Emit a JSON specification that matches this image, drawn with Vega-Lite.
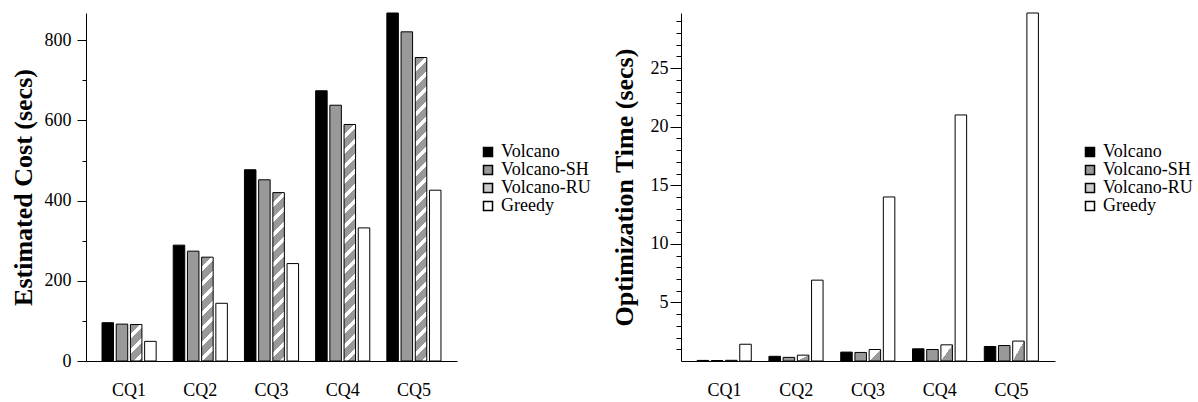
{
  "$schema": "https://vega.github.io/schema/vega-lite/v6.json",
  "background": "white",
  "padding": {"left": 10, "top": 10, "right": 0, "bottom": 0},
  "autosize": {"type": "pad"},
  "spacing": 20,
  "datasets": {
    "cost": [
      {"q": "CQ1", "s": "Volcano", "v": 95.5}, {"q": "CQ1", "s": "Volcano-SH", "v": 92}, {"q": "CQ1", "s": "Volcano-RU", "v": 91}, {"q": "CQ1", "s": "Greedy", "v": 49},
      {"q": "CQ2", "s": "Volcano", "v": 289}, {"q": "CQ2", "s": "Volcano-SH", "v": 274}, {"q": "CQ2", "s": "Volcano-RU", "v": 259}, {"q": "CQ2", "s": "Greedy", "v": 144},
      {"q": "CQ3", "s": "Volcano", "v": 477}, {"q": "CQ3", "s": "Volcano-SH", "v": 452}, {"q": "CQ3", "s": "Volcano-RU", "v": 420}, {"q": "CQ3", "s": "Greedy", "v": 243},
      {"q": "CQ4", "s": "Volcano", "v": 674}, {"q": "CQ4", "s": "Volcano-SH", "v": 638}, {"q": "CQ4", "s": "Volcano-RU", "v": 590}, {"q": "CQ4", "s": "Greedy", "v": 332},
      {"q": "CQ5", "s": "Volcano", "v": 868}, {"q": "CQ5", "s": "Volcano-SH", "v": 821}, {"q": "CQ5", "s": "Volcano-RU", "v": 757}, {"q": "CQ5", "s": "Greedy", "v": 426}
    ],
    "time": [
      {"q": "CQ1", "s": "Volcano", "v": 0.05}, {"q": "CQ1", "s": "Volcano-SH", "v": 0.04}, {"q": "CQ1", "s": "Volcano-RU", "v": 0.06}, {"q": "CQ1", "s": "Greedy", "v": 1.43},
      {"q": "CQ2", "s": "Volcano", "v": 0.40}, {"q": "CQ2", "s": "Volcano-SH", "v": 0.31}, {"q": "CQ2", "s": "Volcano-RU", "v": 0.50}, {"q": "CQ2", "s": "Greedy", "v": 6.9},
      {"q": "CQ3", "s": "Volcano", "v": 0.76}, {"q": "CQ3", "s": "Volcano-SH", "v": 0.73}, {"q": "CQ3", "s": "Volcano-RU", "v": 0.98}, {"q": "CQ3", "s": "Greedy", "v": 14.0},
      {"q": "CQ4", "s": "Volcano", "v": 1.04}, {"q": "CQ4", "s": "Volcano-SH", "v": 0.98}, {"q": "CQ4", "s": "Volcano-RU", "v": 1.38}, {"q": "CQ4", "s": "Greedy", "v": 21.0},
      {"q": "CQ5", "s": "Volcano", "v": 1.24}, {"q": "CQ5", "s": "Volcano-SH", "v": 1.32}, {"q": "CQ5", "s": "Volcano-RU", "v": 1.70}, {"q": "CQ5", "s": "Greedy", "v": 29.7}
    ]
  },
  "config": {
    "view": {"stroke": null},
    "font": "Liberation Serif",
    "axis": {"labelFont": "Liberation Serif", "titleFont": "Liberation Serif", "labelColor": "#000", "titleColor": "#000", "domainColor": "#000", "tickColor": "#000", "grid": false, "titleFontWeight": "bold", "domainWidth": 1, "tickWidth": 1},
    "legend": {"labelFont": "Liberation Serif", "labelColor": "#000", "labelFontSize": 18, "symbolType": "square", "symbolSize": 81, "rowPadding": -6, "labelOffset": 4, "padding": 0}
  },
  "resolve": {"scale": {"fill": "independent"}, "legend": {"fill": "independent"}},
  "hconcat": [
    {
      "width": 371, "height": 348,
      "data": {"name": "cost"},
      "layer": [
        {
          "mark": {"type": "bar", "stroke": "#000", "strokeWidth": 1},
          "encoding": {
            "x": {"field": "q", "type": "nominal", "scale": {"paddingInner": 0.24, "paddingOuter": 0.225}, "axis": {"title": null, "labelAngle": 0, "ticks": false, "labelPadding": 20, "labelFontSize": 18}},
            "xOffset": {"field": "s", "type": "nominal", "sort": ["Volcano", "Volcano-SH", "Volcano-RU", "Greedy"], "scale": {"paddingInner": 0.19, "paddingOuter": 0}},
            "y": {"field": "v", "type": "quantitative", "scale": {"domain": [0, 868], "nice": false}, "axis": {"title": "Estimated Cost (secs)", "values": [0, 200, 400, 600, 800], "tickSize": 9, "labelPadding": 6, "titlePadding": 8, "labelFontSize": 18, "titleFontSize": 26}},
            "fill": {
              "field": "s", "type": "nominal",
              "scale": {"domain": ["Volcano", "Volcano-SH", "Volcano-RU", "Greedy"], "range": ["#000000", "#999999", "#cccccc", "#ffffff"]},
              "legend": {"title": null, "orient": "none", "legendX": 393, "legendY": 130, "labelFont": "Liberation Serif", "labelFontSize": 18, "labelColor": "#000",
                "encode": {"symbols": {
                  "stroke": {"value": "#000"}, "strokeWidth": {"value": 1},
                  "fill": {"condition": [
                    {"test": "datum.value === 'Volcano-RU'", "value": {"gradient": "linear", "x1": 0, "y1": 0, "x2": 1, "y2": 1, "stops": [{"offset": 0, "color": "#fff"}, {"offset": 0.5, "color": "#fff"}, {"offset": 0.5, "color": "#999"}, {"offset": 1, "color": "#999"}]}},
                    {"test": "datum.value === 'Volcano'", "value": "#000"},
                    {"test": "datum.value === 'Volcano-SH'", "value": "#999"}
                  ], "value": "#fff"}}}},
              "condition": [
                {"test": "datum.q === 'CQ1' && datum.s === 'Volcano-RU'", "value": {"gradient": "linear", "x1": 0, "y1": 0, "x2": 0.377, "y2": 1.196, "stops": [
                  {"offset": 0, "color": "#999"}, {"offset": 0.2031, "color": "#999"}, {"offset": 0.2031, "color": "#fff"}, {"offset": 0.3125, "color": "#fff"},
                  {"offset": 0.3125, "color": "#999"}, {"offset": 0.5156, "color": "#999"}, {"offset": 0.5156, "color": "#fff"}, {"offset": 0.625, "color": "#fff"},
                  {"offset": 0.625, "color": "#999"}, {"offset": 0.8281, "color": "#999"}, {"offset": 0.8281, "color": "#fff"}, {"offset": 0.9375, "color": "#fff"},
                  {"offset": 0.9375, "color": "#999"}, {"offset": 1, "color": "#999"}]}},
                {"test": "datum.q === 'CQ2' && datum.s === 'Volcano-RU'", "value": {"gradient": "linear", "x1": 0, "y1": 0, "x2": 0.1213, "y2": 1.0972, "stops": [
                  {"offset": 0, "color": "#999"}, {"offset": 0.0844, "color": "#999"}, {"offset": 0.0844, "color": "#fff"}, {"offset": 0.1299, "color": "#fff"},
                  {"offset": 0.1299, "color": "#999"}, {"offset": 0.2143, "color": "#999"}, {"offset": 0.2143, "color": "#fff"}, {"offset": 0.2597, "color": "#fff"},
                  {"offset": 0.2597, "color": "#999"}, {"offset": 0.3442, "color": "#999"}, {"offset": 0.3442, "color": "#fff"}, {"offset": 0.3896, "color": "#fff"},
                  {"offset": 0.3896, "color": "#999"}, {"offset": 0.4740, "color": "#999"}, {"offset": 0.4740, "color": "#fff"}, {"offset": 0.5195, "color": "#fff"},
                  {"offset": 0.5195, "color": "#999"}, {"offset": 0.6039, "color": "#999"}, {"offset": 0.6039, "color": "#fff"}, {"offset": 0.6494, "color": "#fff"},
                  {"offset": 0.6494, "color": "#999"}, {"offset": 0.7338, "color": "#999"}, {"offset": 0.7338, "color": "#fff"}, {"offset": 0.7792, "color": "#fff"},
                  {"offset": 0.7792, "color": "#999"}, {"offset": 0.8636, "color": "#999"}, {"offset": 0.8636, "color": "#fff"}, {"offset": 0.9091, "color": "#fff"},
                  {"offset": 0.9091, "color": "#999"}, {"offset": 0.9935, "color": "#999"}, {"offset": 0.9935, "color": "#fff"}, {"offset": 1, "color": "#fff"}]}},
                {"test": "datum.q === 'CQ3' && datum.s === 'Volcano-RU'", "value": {"gradient": "linear", "x1": 0, "y1": 0, "x2": 0.0726, "y2": 1.0633, "stops": [
                  {"offset": 0, "color": "#999"}, {"offset": 0.0542, "color": "#999"}, {"offset": 0.0542, "color": "#fff"}, {"offset": 0.0833, "color": "#fff"},
                  {"offset": 0.0833, "color": "#999"}, {"offset": 0.1375, "color": "#999"}, {"offset": 0.1375, "color": "#fff"}, {"offset": 0.1667, "color": "#fff"},
                  {"offset": 0.1667, "color": "#999"}, {"offset": 0.2208, "color": "#999"}, {"offset": 0.2208, "color": "#fff"}, {"offset": 0.25, "color": "#fff"},
                  {"offset": 0.25, "color": "#999"}, {"offset": 0.3042, "color": "#999"}, {"offset": 0.3042, "color": "#fff"}, {"offset": 0.3333, "color": "#fff"},
                  {"offset": 0.3333, "color": "#999"}, {"offset": 0.3875, "color": "#999"}, {"offset": 0.3875, "color": "#fff"}, {"offset": 0.4167, "color": "#fff"},
                  {"offset": 0.4167, "color": "#999"}, {"offset": 0.4708, "color": "#999"}, {"offset": 0.4708, "color": "#fff"}, {"offset": 0.5, "color": "#fff"},
                  {"offset": 0.5, "color": "#999"}, {"offset": 0.5542, "color": "#999"}, {"offset": 0.5542, "color": "#fff"}, {"offset": 0.5833, "color": "#fff"},
                  {"offset": 0.5833, "color": "#999"}, {"offset": 0.6375, "color": "#999"}, {"offset": 0.6375, "color": "#fff"}, {"offset": 0.6667, "color": "#fff"},
                  {"offset": 0.6667, "color": "#999"}, {"offset": 0.7208, "color": "#999"}, {"offset": 0.7208, "color": "#fff"}, {"offset": 0.75, "color": "#fff"},
                  {"offset": 0.75, "color": "#999"}, {"offset": 0.8042, "color": "#999"}, {"offset": 0.8042, "color": "#fff"}, {"offset": 0.8333, "color": "#fff"},
                  {"offset": 0.8333, "color": "#999"}, {"offset": 0.8875, "color": "#999"}, {"offset": 0.8875, "color": "#fff"}, {"offset": 0.9167, "color": "#fff"},
                  {"offset": 0.9167, "color": "#999"}, {"offset": 0.9708, "color": "#999"}, {"offset": 0.9708, "color": "#fff"}, {"offset": 1, "color": "#fff"}]}},
                {"test": "datum.q === 'CQ4' && datum.s === 'Volcano-RU'", "value": {"gradient": "linear", "x1": 0, "y1": 0, "x2": 0.0508, "y2": 1.0461, "stops": [
                  {"offset": 0, "color": "#999"}, {"offset": 0.0393, "color": "#999"}, {"offset": 0.0393, "color": "#fff"}, {"offset": 0.0604, "color": "#fff"},
                  {"offset": 0.0604, "color": "#999"}, {"offset": 0.0997, "color": "#999"}, {"offset": 0.0997, "color": "#fff"}, {"offset": 0.1209, "color": "#fff"},
                  {"offset": 0.1209, "color": "#999"}, {"offset": 0.1602, "color": "#999"}, {"offset": 0.1602, "color": "#fff"}, {"offset": 0.1813, "color": "#fff"},
                  {"offset": 0.1813, "color": "#999"}, {"offset": 0.2206, "color": "#999"}, {"offset": 0.2206, "color": "#fff"}, {"offset": 0.2417, "color": "#fff"},
                  {"offset": 0.2417, "color": "#999"}, {"offset": 0.2810, "color": "#999"}, {"offset": 0.2810, "color": "#fff"}, {"offset": 0.3022, "color": "#fff"},
                  {"offset": 0.3022, "color": "#999"}, {"offset": 0.3415, "color": "#999"}, {"offset": 0.3415, "color": "#fff"}, {"offset": 0.3626, "color": "#fff"},
                  {"offset": 0.3626, "color": "#999"}, {"offset": 0.4019, "color": "#999"}, {"offset": 0.4019, "color": "#fff"}, {"offset": 0.4230, "color": "#fff"},
                  {"offset": 0.4230, "color": "#999"}, {"offset": 0.4623, "color": "#999"}, {"offset": 0.4623, "color": "#fff"}, {"offset": 0.4834, "color": "#fff"},
                  {"offset": 0.4834, "color": "#999"}, {"offset": 0.5227, "color": "#999"}, {"offset": 0.5227, "color": "#fff"}, {"offset": 0.5439, "color": "#fff"},
                  {"offset": 0.5439, "color": "#999"}, {"offset": 0.5832, "color": "#999"}, {"offset": 0.5832, "color": "#fff"}, {"offset": 0.6043, "color": "#fff"},
                  {"offset": 0.6043, "color": "#999"}, {"offset": 0.6436, "color": "#999"}, {"offset": 0.6436, "color": "#fff"}, {"offset": 0.6647, "color": "#fff"},
                  {"offset": 0.6647, "color": "#999"}, {"offset": 0.7040, "color": "#999"}, {"offset": 0.7040, "color": "#fff"}, {"offset": 0.7252, "color": "#fff"},
                  {"offset": 0.7252, "color": "#999"}, {"offset": 0.7645, "color": "#999"}, {"offset": 0.7645, "color": "#fff"}, {"offset": 0.7856, "color": "#fff"},
                  {"offset": 0.7856, "color": "#999"}, {"offset": 0.8249, "color": "#999"}, {"offset": 0.8249, "color": "#fff"}, {"offset": 0.8460, "color": "#fff"},
                  {"offset": 0.8460, "color": "#999"}, {"offset": 0.8853, "color": "#999"}, {"offset": 0.8853, "color": "#fff"}, {"offset": 0.9065, "color": "#fff"},
                  {"offset": 0.9065, "color": "#999"}, {"offset": 0.9458, "color": "#999"}, {"offset": 0.9458, "color": "#fff"}, {"offset": 0.9669, "color": "#fff"},
                  {"offset": 0.9669, "color": "#999"}, {"offset": 1, "color": "#999"}]}},
                {"test": "datum.q === 'CQ5' && datum.s === 'Volcano-RU'", "value": {"gradient": "linear", "x1": 0, "y1": 0, "x2": 0.0392, "y2": 1.0364, "stops": [
                  {"offset": 0, "color": "#999"}, {"offset": 0.0309, "color": "#999"}, {"offset": 0.0309, "color": "#fff"}, {"offset": 0.0476, "color": "#fff"},
                  {"offset": 0.0476, "color": "#999"}, {"offset": 0.0785, "color": "#999"}, {"offset": 0.0785, "color": "#fff"}, {"offset": 0.0952, "color": "#fff"},
                  {"offset": 0.0952, "color": "#999"}, {"offset": 0.1261, "color": "#999"}, {"offset": 0.1261, "color": "#fff"}, {"offset": 0.1428, "color": "#fff"},
                  {"offset": 0.1428, "color": "#999"}, {"offset": 0.1737, "color": "#999"}, {"offset": 0.1737, "color": "#fff"}, {"offset": 0.1904, "color": "#fff"},
                  {"offset": 0.1904, "color": "#999"}, {"offset": 0.2213, "color": "#999"}, {"offset": 0.2213, "color": "#fff"}, {"offset": 0.2379, "color": "#fff"},
                  {"offset": 0.2379, "color": "#999"}, {"offset": 0.2689, "color": "#999"}, {"offset": 0.2689, "color": "#fff"}, {"offset": 0.2855, "color": "#fff"},
                  {"offset": 0.2855, "color": "#999"}, {"offset": 0.3165, "color": "#999"}, {"offset": 0.3165, "color": "#fff"}, {"offset": 0.3331, "color": "#fff"},
                  {"offset": 0.3331, "color": "#999"}, {"offset": 0.3640, "color": "#999"}, {"offset": 0.3640, "color": "#fff"}, {"offset": 0.3807, "color": "#fff"},
                  {"offset": 0.3807, "color": "#999"}, {"offset": 0.4116, "color": "#999"}, {"offset": 0.4116, "color": "#fff"}, {"offset": 0.4283, "color": "#fff"},
                  {"offset": 0.4283, "color": "#999"}, {"offset": 0.4592, "color": "#999"}, {"offset": 0.4592, "color": "#fff"}, {"offset": 0.4759, "color": "#fff"},
                  {"offset": 0.4759, "color": "#999"}, {"offset": 0.5068, "color": "#999"}, {"offset": 0.5068, "color": "#fff"}, {"offset": 0.5235, "color": "#fff"},
                  {"offset": 0.5235, "color": "#999"}, {"offset": 0.5544, "color": "#999"}, {"offset": 0.5544, "color": "#fff"}, {"offset": 0.5711, "color": "#fff"},
                  {"offset": 0.5711, "color": "#999"}, {"offset": 0.6020, "color": "#999"}, {"offset": 0.6020, "color": "#fff"}, {"offset": 0.6187, "color": "#fff"},
                  {"offset": 0.6187, "color": "#999"}, {"offset": 0.6496, "color": "#999"}, {"offset": 0.6496, "color": "#fff"}, {"offset": 0.6663, "color": "#fff"},
                  {"offset": 0.6663, "color": "#999"}, {"offset": 0.6972, "color": "#999"}, {"offset": 0.6972, "color": "#fff"}, {"offset": 0.7138, "color": "#fff"},
                  {"offset": 0.7138, "color": "#999"}, {"offset": 0.7448, "color": "#999"}, {"offset": 0.7448, "color": "#fff"}, {"offset": 0.7614, "color": "#fff"},
                  {"offset": 0.7614, "color": "#999"}, {"offset": 0.7924, "color": "#999"}, {"offset": 0.7924, "color": "#fff"}, {"offset": 0.8090, "color": "#fff"},
                  {"offset": 0.8090, "color": "#999"}, {"offset": 0.8400, "color": "#999"}, {"offset": 0.8400, "color": "#fff"}, {"offset": 0.8566, "color": "#fff"},
                  {"offset": 0.8566, "color": "#999"}, {"offset": 0.8875, "color": "#999"}, {"offset": 0.8875, "color": "#fff"}, {"offset": 0.9042, "color": "#fff"},
                  {"offset": 0.9042, "color": "#999"}, {"offset": 0.9351, "color": "#999"}, {"offset": 0.9351, "color": "#fff"}, {"offset": 0.9518, "color": "#fff"},
                  {"offset": 0.9518, "color": "#999"}, {"offset": 0.9827, "color": "#999"}, {"offset": 0.9827, "color": "#fff"}, {"offset": 1, "color": "#fff"}]}}
              ]
            }
          }
        },
        {
          "mark": {"type": "point", "opacity": 0},
          "encoding": {
            "y": {"field": "v", "type": "quantitative", "scale": {"domain": [0, 868], "nice": false}, "axis": {"orient": "left", "values": [100, 300, 500, 700], "labels": false, "domain": false, "title": null, "tickSize": 4}}
          }
        }
      ],
      "resolve": {"axis": {"y": "independent"}}
    },
    {
      "width": 374, "height": 348,
      "data": {"name": "time"},
      "layer": [
        {
          "mark": {"type": "bar", "stroke": "#000", "strokeWidth": 1},
          "encoding": {
            "x": {"field": "q", "type": "nominal", "scale": {"paddingInner": 0.24, "paddingOuter": 0.225}, "axis": {"title": null, "labelAngle": 0, "ticks": false, "labelPadding": 20, "labelFontSize": 18}},
            "xOffset": {"field": "s", "type": "nominal", "sort": ["Volcano", "Volcano-SH", "Volcano-RU", "Greedy"], "scale": {"paddingInner": 0.19, "paddingOuter": 0}},
            "y": {"field": "v", "type": "quantitative", "scale": {"domain": [0, 29.7], "nice": false}, "axis": {"title": "Optimization Time (secs)", "values": [5, 10, 15, 20, 25], "tickSize": 11, "labelPadding": 2, "titlePadding": 13, "labelFontSize": 18, "titleFontSize": 26}},
            "fill": {
              "field": "s", "type": "nominal",
              "scale": {"domain": ["Volcano", "Volcano-SH", "Volcano-RU", "Greedy"], "range": ["#000000", "#999999", "#cccccc", "#ffffff"]},
              "legend": {"title": null, "orient": "none", "legendX": 400, "legendY": 130, "labelFont": "Liberation Serif", "labelFontSize": 18, "labelColor": "#000",
                "encode": {"symbols": {
                  "stroke": {"value": "#000"}, "strokeWidth": {"value": 1},
                  "fill": {"condition": [
                    {"test": "datum.value === 'Volcano-RU'", "value": {"gradient": "linear", "x1": 0, "y1": 0, "x2": 1, "y2": 1, "stops": [{"offset": 0, "color": "#fff"}, {"offset": 0.5, "color": "#fff"}, {"offset": 0.5, "color": "#999"}, {"offset": 1, "color": "#999"}]}},
                    {"test": "datum.value === 'Volcano'", "value": "#000"},
                    {"test": "datum.value === 'Volcano-SH'", "value": "#999"}
                  ], "value": "#fff"}}}},
              "condition": {"test": "datum.s === 'Volcano-RU'", "value": {"gradient": "linear", "x1": 0, "y1": 0, "x2": 1, "y2": 1, "stops": [{"offset": 0, "color": "#fff"}, {"offset": 0.5, "color": "#fff"}, {"offset": 0.5, "color": "#999"}, {"offset": 1, "color": "#999"}]}}
            }
          }
        },
        {
          "mark": {"type": "point", "opacity": 0},
          "encoding": {
            "y": {"field": "v", "type": "quantitative", "scale": {"domain": [0, 29.7], "nice": false}, "axis": {"orient": "left", "values": [1, 2, 3, 4, 6, 7, 8, 9, 11, 12, 13, 14, 16, 17, 18, 19, 21, 22, 23, 24, 26, 27, 28, 29], "labels": false, "domain": false, "title": null, "tickSize": 5}}
          }
        }
      ],
      "resolve": {"axis": {"y": "independent"}}
    }
  ]
}
